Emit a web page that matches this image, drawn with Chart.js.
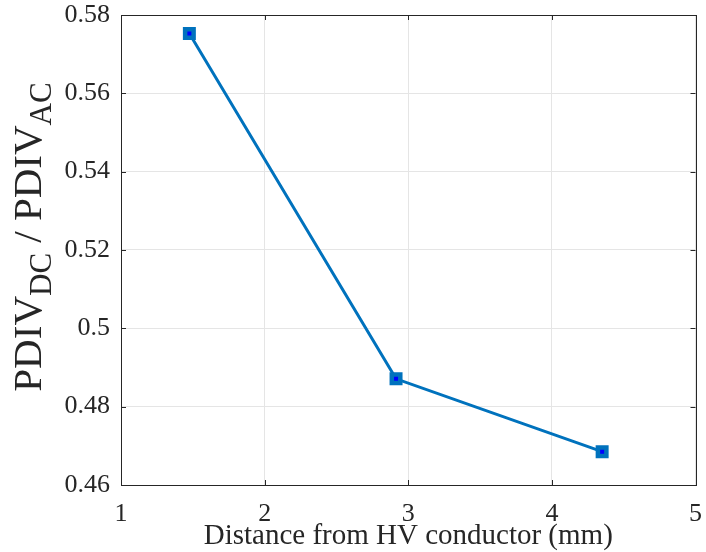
<!DOCTYPE html>
<html>
<head>
<meta charset="utf-8">
<script src="https://cdn.jsdelivr.net/npm/chart.js@4/dist/chart.umd.min.js"></script>
<style>
  html, body { margin: 0; padding: 0; background: #fff; }
  #wrap { width: 706px; height: 552px; }
</style>
</head>
<body>
<div id="wrap"><canvas id="ratio" width="706" height="552"></canvas></div>
<script>
// distance from the HV conductor (mm) and PDIV ratio DC/AC
var distance = [1.476, 2.915, 4.35];
var pdivRatio = [0.5753, 0.4871, 0.4685];
var xTicks = [1, 2, 3, 4, 5];
var yTicks = [0.46, 0.48, 0.5, 0.52, 0.54, 0.56, 0.58];

var serif = 'Liberation Serif, Times New Roman, serif';
var axisColor = '#262626';
var lineBlue = '#0072BD';

// box around the axes plus small inward tick marks (matlab style)
var boxTicks = {
    id: 'boxTicks',
    afterDraw: function(chart) {
        var c = chart.ctx, a = chart.chartArea;
        var xs = chart.scales.x, ys = chart.scales.y;
        c.save();
        c.strokeStyle = axisColor;
        c.lineWidth = 1;
        c.beginPath();
        xTicks.forEach(function(t) {
            var px = Math.round(xs.getPixelForValue(t)) + 0.5;
            c.moveTo(px, a.bottom); c.lineTo(px, a.bottom - 5);
            c.moveTo(px, a.top); c.lineTo(px, a.top + 5);
        });
        yTicks.forEach(function(t) {
            var py = Math.round(ys.getPixelForValue(t)) + 0.5;
            c.moveTo(a.left, py); c.lineTo(a.left + 5, py);
            c.moveTo(a.right, py); c.lineTo(a.right - 5, py);
        });
        c.stroke();
        c.strokeRect(Math.round(a.left) + 0.5, Math.round(a.top) + 0.5,
            Math.round(a.right - a.left), Math.round(a.bottom - a.top));
        c.restore();
    }
};

// y label with subscripts: PDIV_DC / PDIV_AC
var yLabel = {
    id: 'yLabel',
    afterDraw: function(chart) {
        var c = chart.ctx;
        var parts = [
            ['PDIV', 0], ['DC', 1], [' / PDIV', 0], ['AC', 1]
        ];
        var big = 'normal 41px ' + serif, small = 'normal 31px ' + serif;
        c.save();
        var total = 0;
        parts.forEach(function(p) {
            c.font = p[1] ? small : big;
            total += c.measureText(p[0]).width;
        });
        c.translate(41, 237);
        c.rotate(-Math.PI / 2);
        c.fillStyle = axisColor;
        c.textBaseline = 'alphabetic';
        var x = -total / 2;
        parts.forEach(function(p) {
            c.font = p[1] ? small : big;
            c.fillText(p[0], x, p[1] ? 10 : 0);
            x += c.measureText(p[0]).width;
        });
        c.restore();
    }
};

var ctx = document.getElementById('ratio').getContext('2d');
var chart = new Chart(ctx, {
    type: 'line',
    data: {
        datasets: [{
            data: distance.map(function(d, i) { return { x: d, y: pdivRatio[i] }; }),
            borderColor: lineBlue,
            borderWidth: 3,
            pointStyle: 'rect',
            pointRadius: 6,
            pointBorderWidth: 4.5,
            pointBorderColor: lineBlue,
            pointBackgroundColor: '#0000FF',
            tension: 0
        }]
    },
    options: {
        responsive: false,
        animation: false,
        layout: { padding: { top: 15, right: 3, left: 0, bottom: 0 } },
        plugins: { legend: { display: false }, tooltip: { enabled: false } },
        scales: {
            x: {
                type: 'linear',
                min: 1, max: 5,
                afterBuildTicks: function(s) { s.ticks = xTicks.map(function(v) { return { value: v }; }); },
                afterFit: function(s) { s.height = 67; s.paddingLeft = 0; s.paddingRight = 0; },
                grid: { color: '#e5e5e5', drawTicks: false },
                border: { display: false },
                ticks: {
                    color: axisColor,
                    padding: 14,
                    maxRotation: 0,
                    font: { family: serif, size: 26 }
                },
                title: {
                    display: true,
                    text: 'Distance from HV conductor (mm)',
                    color: axisColor,
                    font: { family: serif, size: 29 },
                    padding: { top: 0, bottom: -2 }
                }
            },
            y: {
                min: 0.46, max: 0.58,
                afterBuildTicks: function(s) { s.ticks = yTicks.map(function(v) { return { value: v }; }); },
                afterFit: function(s) { s.width = 121; s.paddingTop = 0; s.paddingBottom = 0; },
                grid: { color: '#e5e5e5', drawTicks: false },
                border: { display: false },
                ticks: {
                    color: axisColor,
                    padding: 11,
                    font: { family: serif, size: 26 },
                    callback: function(v) { return String(parseFloat(v.toFixed(2))); }
                }
            }
        }
    },
    plugins: [boxTicks, yLabel]
});
</script>
</body>
</html>
